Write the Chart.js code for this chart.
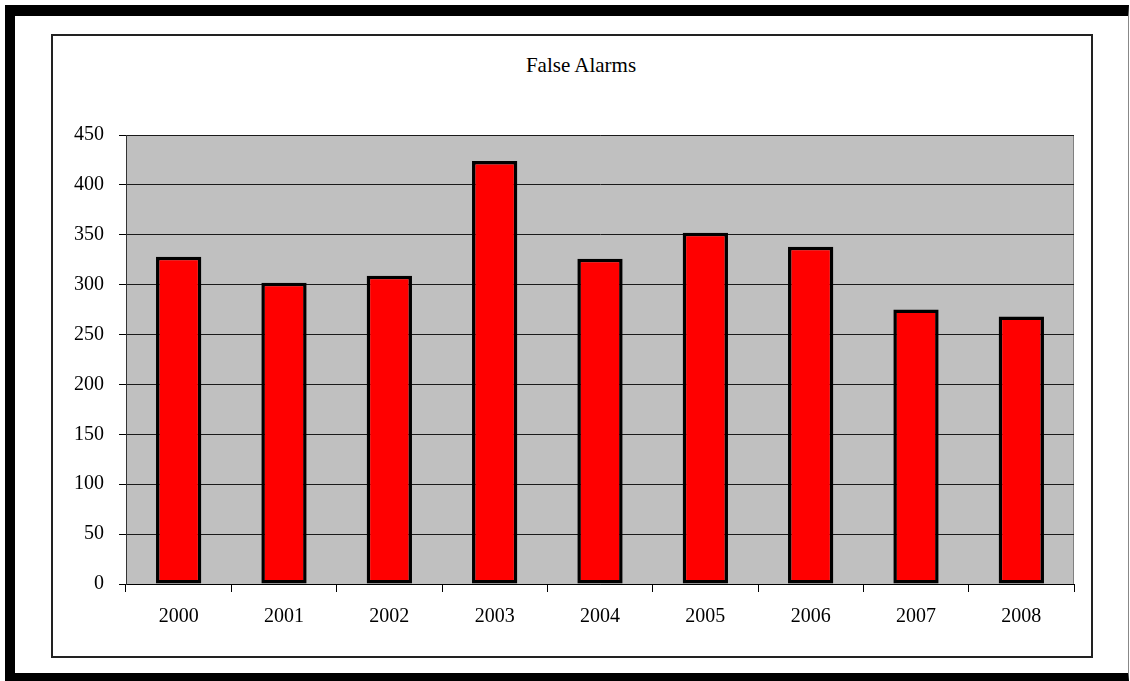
<!DOCTYPE html>
<html>
<head>
<meta charset="utf-8">
<title>False Alarms</title>
<script src="https://cdn.jsdelivr.net/npm/chart.js@4/dist/chart.umd.min.js"></script>
<style>
  html, body { margin: 0; padding: 0; background: #fff; }
  body { width: 1130px; height: 681px; position: relative; overflow: hidden; }
  .outer {
    position: absolute; left: 5px; top: 5px; width: 1124px; height: 676px;
    box-sizing: border-box;
    border-top: 11px solid #000; border-left: 10px solid #000;
    border-bottom: 8px solid #000; border-right: 1px solid #888;
  }
  .inner {
    position: absolute; left: 51px; top: 34px; width: 1042px; height: 624px;
    box-sizing: border-box; border: 2px solid #222;
  }
  .title {
    position: absolute; left: 481px; top: 52px; width: 200px; text-align: center;
    font-family: 'Liberation Serif', 'Times New Roman', serif; font-size: 21px;
    line-height: 26px; color: #000;
  }
  #wrap { position: absolute; left: 0; top: 0; width: 1130px; height: 681px; }
</style>
</head>
<body>
<div class="outer"></div>
<div class="inner"></div>
<div class="title">False Alarms</div>
<div id="wrap"><canvas id="chart" width="1130" height="681"></canvas></div>
<script>
// Yearly false alarm counts
const years = ['2000', '2001', '2002', '2003', '2004', '2005', '2006', '2007', '2008'];
const falseAlarms = [328, 302, 309, 424, 326, 352, 338, 275, 268];
const yMin = 0;
const yMax = 450;
const yStep = 50;

const serif = "'Liberation Serif', 'Times New Roman', serif";

// Gray plot background with a thin frame
const plotBackground = {
  id: 'plotBackground',
  beforeDraw(chart) {
    const { ctx, chartArea: a } = chart;
    ctx.save();
    ctx.fillStyle = '#C0C0C0';
    ctx.fillRect(a.left, a.top, a.right - a.left, a.bottom - a.top);
    ctx.strokeStyle = '#808080';
    ctx.lineWidth = 1;
    ctx.strokeRect(a.left + 0.5, a.top + 0.5, a.right - a.left - 1, a.bottom - a.top);
    ctx.restore();
  }
};

new Chart(document.getElementById('chart'), {
  type: 'bar',
  data: {
    labels: years,
    datasets: [{
      label: 'False Alarms',
      data: falseAlarms,
      backgroundColor: '#FF0000',
      borderColor: '#000000',
      borderWidth: 3.5,
      borderSkipped: false,
      barPercentage: 0.43,
      categoryPercentage: 1.0
    }]
  },
  options: {
    responsive: false,
    animation: false,
    devicePixelRatio: 1,
    layout: { padding: { left: 0, right: 56, top: 135, bottom: 0 } },
    plugins: {
      legend: { display: false },
      tooltip: { enabled: false },
      title: { display: false }
    },
    scales: {
      x: {
        grid: {
          display: true,
          offset: true,
          drawOnChartArea: false,
          drawTicks: true,
          tickLength: 8,
          tickColor: '#000',
          tickWidth: 1
        },
        border: { display: true, color: '#000', width: 1 },
        ticks: {
          color: '#000',
          font: { family: serif, size: 20 },
          padding: 13,
          maxRotation: 0
        },
        afterFit(scale) { scale.height = 97; }
      },
      y: {
        min: yMin,
        max: yMax,
        grid: {
          display: true,
          color: '#1a1a1a',
          lineWidth: 1,
          drawTicks: true,
          tickLength: 7,
          tickColor: '#000'
        },
        border: { display: true, color: '#333', width: 1 },
        ticks: {
          stepSize: yStep,
          color: '#000',
          font: { family: serif, size: 20 },
          padding: 15
        },
        afterFit(scale) { scale.width = 126; }
      }
    }
  },
  plugins: [plotBackground]
});
</script>
</body>
</html>
